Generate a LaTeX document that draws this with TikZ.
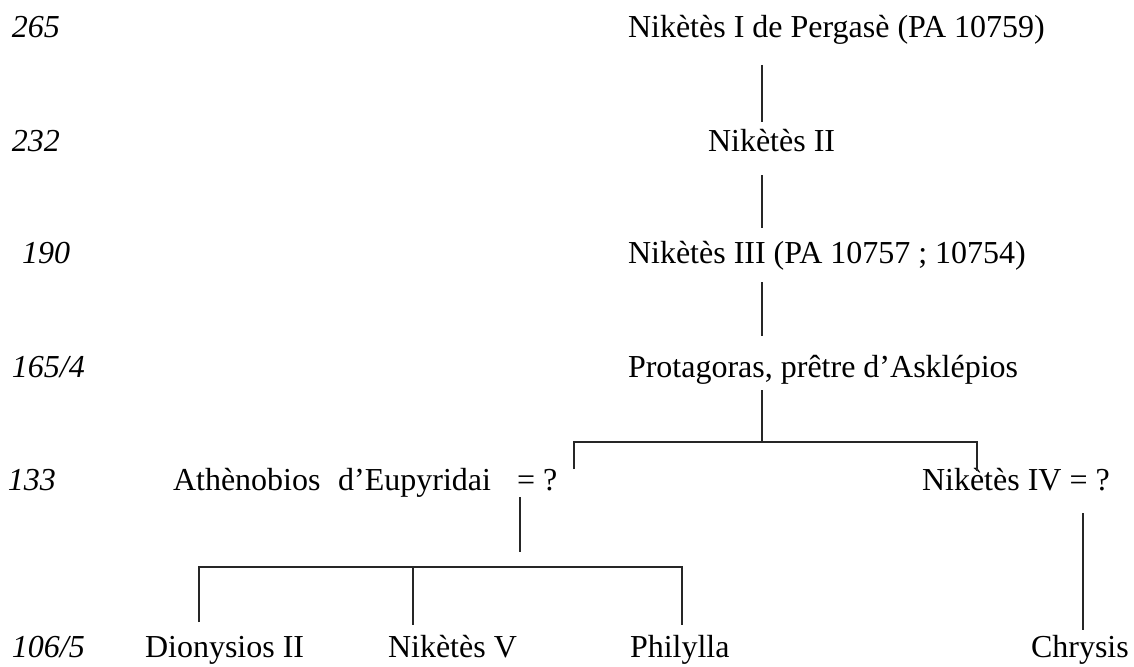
\documentclass[tikz,border=0pt]{standalone}
\usepackage{fontspec}
\setmainfont{Liberation Serif}
\begin{document}
\begin{tikzpicture}[x=1pt,y=-1pt,
  lbl/.style={anchor=base west,inner sep=0pt,outer sep=0pt,font=\fontsize{32}{38}\selectfont},
  yr/.style={lbl,font=\fontsize{32}{38}\selectfont\itshape},
  link/.style={line width=1.4pt,draw=black!85}]
\useasboundingbox[fill=white] (0,0) rectangle (1134,666);
% years
\node[yr] (y265) at (12,38) {265};
\node[yr] (y232) at (12,151) {232};
\node[yr] (y190) at (22,263) {190};
\node[yr] (y165) at (12,377) {165/4};
\node[yr] (y133) at (8,490) {133};
\node[yr] (y106) at (12,657) {106/5};
% persons
\node[lbl] (n1) at (628,38) {Nikètès I de Pergasè (PA 10759)};
\node[lbl] (n2) at (708,151) {Nikètès II};
\node[lbl] (n3) at (628,263) {Nikètès III (PA 10757 ; 10754)};
\node[lbl] (prot) at (628,377) {Protagoras, prêtre d’Asklépios};
\node[lbl] (ath) at (173,490) {Athènobios\hspace{0.55em}d’Eupyridai};
\node[lbl] (athq) at (517,490) {= ?};
\node[lbl] (n4) at (922,490) {Nikètès IV = ?};
\node[lbl] (dio) at (145,657) {Dionysios II};
\node[lbl] (n5) at (388,657) {Nikètès V};
\node[lbl] (phi) at (630,657) {Philylla};
\node[lbl] (chr) at (1031,657) {Chrysis};
% connector points
\coordinate (a1) at (762,65);  \coordinate (b1) at (762,122);
\coordinate (a2) at (762,175); \coordinate (b2) at (762,228);
\coordinate (a3) at (762,282); \coordinate (b3) at (762,336);
\coordinate (a4) at (762,390); \coordinate (j4) at (762,442);
\coordinate (l4) at (574,442); \coordinate (l4e) at (574,469);
\coordinate (r4) at (977,442); \coordinate (r4e) at (977,471);
\coordinate (a5) at (520,497); \coordinate (j5) at (520,552);
\coordinate (h5l) at (199,567); \coordinate (h5r) at (682,567);
\coordinate (d1e) at (199,622);
\coordinate (d2) at (413,567); \coordinate (d2e) at (413,625);
\coordinate (d3e) at (682,625);
\coordinate (c1) at (1083,513); \coordinate (c1e) at (1083,630);
% connectors
\draw[link] (a1) -- (b1);
\draw[link] (a2) -- (b2);
\draw[link] (a3) -- (b3);
\draw[link] (a4) -- (j4);
\draw[link] (l4e) -- (l4) -- (r4) -- (r4e);
\draw[link] (a5) -- (j5);
\draw[link] (d1e) -- (h5l) -- (h5r) -- (d3e);
\draw[link] (d2) -- (d2e);
\draw[link] (c1) -- (c1e);
\end{tikzpicture}
\end{document}
